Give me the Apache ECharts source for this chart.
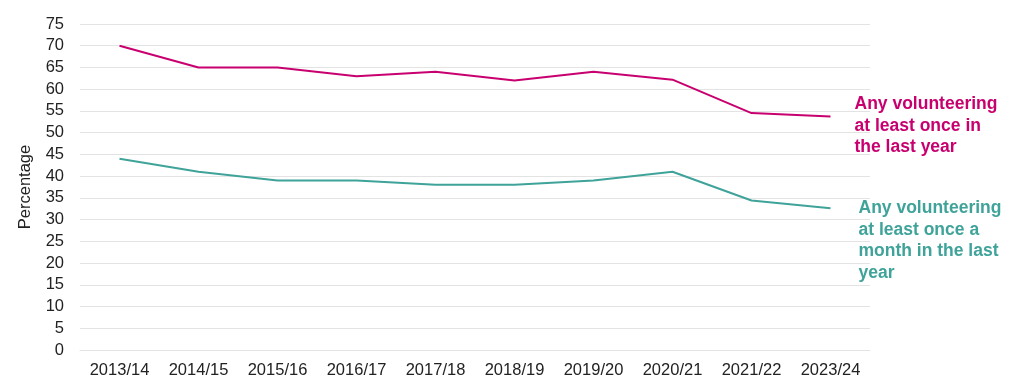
<!DOCTYPE html>
<html><head><meta charset="utf-8">
<script src="https://cdn.jsdelivr.net/npm/echarts@6/dist/echarts.min.js"></script>
<style>html,body{margin:0;padding:0;background:#fff}#c{width:1024px;height:392px}</style>
</head><body><div id="c"></div>
<script>
var categories = ['2013/14','2014/15','2015/16','2016/17','2017/18','2018/19','2019/20','2020/21','2021/22','2023/24'];
var anyYear = [70, 65, 65, 63, 64, 62, 64, 62.2, 54.5, 53.7];
var anyMonth = [44, 41, 39, 39, 38, 38, 39, 41, 34.4, 32.6];
var labelYear = 'Any volunteering\nat least once in\nthe last year';
var labelMonth = 'Any volunteering\nat least once a\nmonth in the last\nyear';

var chart = echarts.init(document.getElementById('c'), null, {renderer:'canvas'});
var font = '"Liberation Sans", Arial, sans-serif';
chart.setOption({
  animation:false,
  grid:{left:80, right:154, top:24, bottom:42, containLabel:false},
  xAxis:{type:'category', data:categories, boundaryGap:true,
    axisLine:{show:true, lineStyle:{color:'#e3e3e3', width:1}}, axisTick:{show:false},
    axisLabel:{color:'#222', fontSize:16.5, fontFamily:font, margin:12}},
  yAxis:{type:'value', min:0, max:75, interval:5,
    name:'Percentage', nameLocation:'middle', nameGap:46, nameRotate:90,
    nameTextStyle:{color:'#222', fontSize:16.5, fontFamily:font},
    axisLine:{show:false}, axisTick:{show:false},
    axisLabel:{color:'#222', fontSize:16.5, fontFamily:font, margin:16},
    splitLine:{lineStyle:{color:'#e3e3e3', width:1}}},
  series:[
    {type:'line', data:anyYear, showSymbol:false, symbol:'none',
     lineStyle:{color:'#c8006f', width:2}, itemStyle:{color:'#c8006f'},
     endLabel:{show:true, formatter:function(){return labelYear;}, distance:0, offset:[24,9.5],
       color:'#c8006f', fontSize:17.5, fontWeight:'bold', fontFamily:font, lineHeight:21.5, align:'left', verticalAlign:'middle'}},
    {type:'line', data:anyMonth, showSymbol:false, symbol:'none',
     lineStyle:{color:'#3fa39a', width:2}, itemStyle:{color:'#3fa39a'},
     endLabel:{show:true, formatter:function(){return labelMonth;}, distance:0, offset:[28,32.5],
       color:'#3fa39a', fontSize:17.5, fontWeight:'bold', fontFamily:font, lineHeight:21.5, align:'left', verticalAlign:'middle'}}
  ]
});
</script></body></html>
